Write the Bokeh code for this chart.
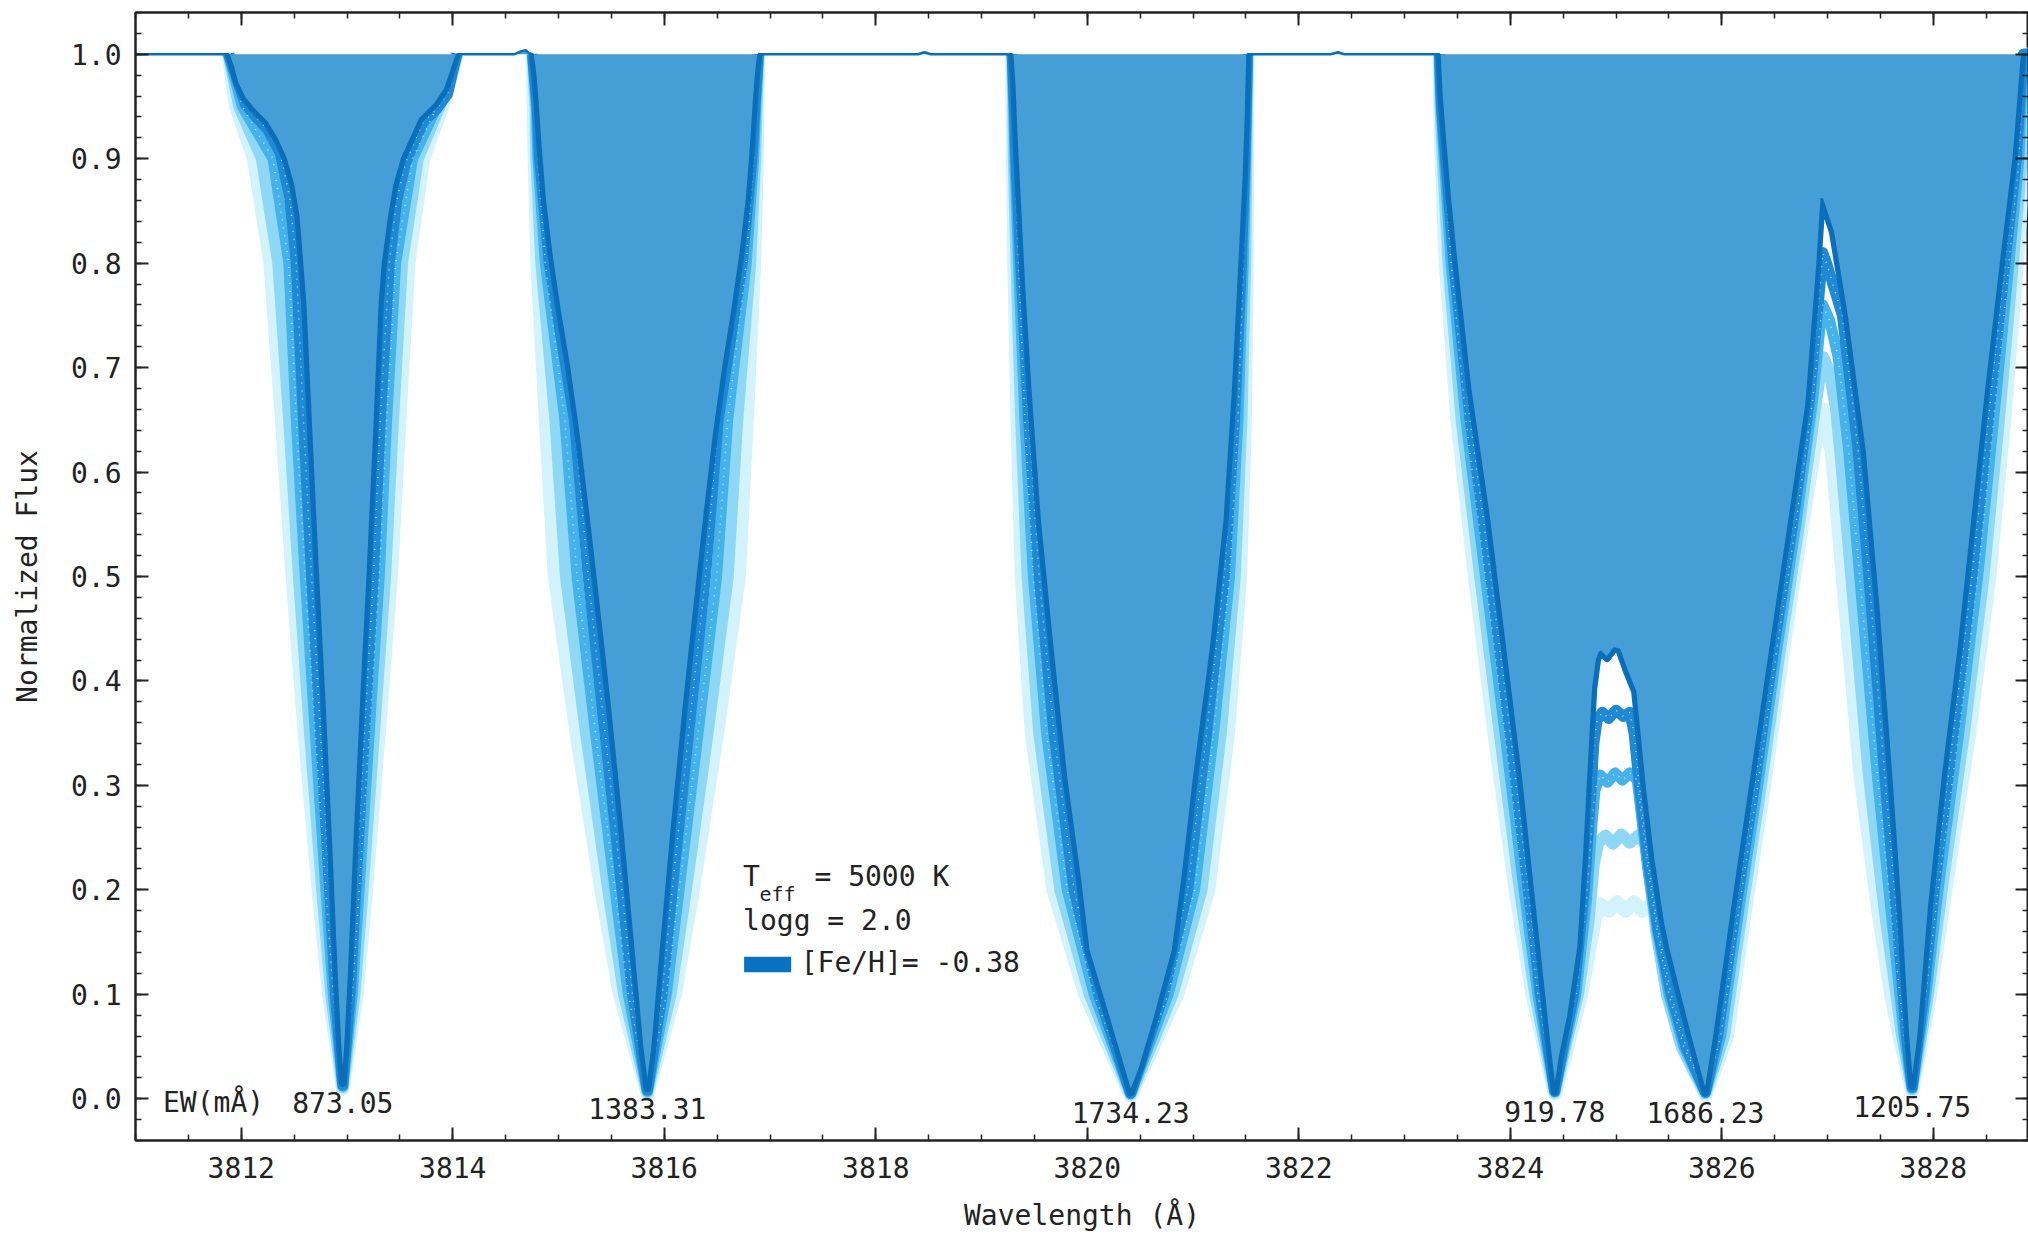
from bokeh.plotting import figure
from bokeh.models import (Range1d, LinearAxis, SingleIntervalTicker, Label, ColumnDataSource,
                          PrintfTickFormatter, CustomJSTickFormatter)
from bokeh.core.properties import value
from bokeh.embed import file_html
from bokeh.resources import INLINE
import numpy as np

# Synthetic spectrum at [Fe/H] = -0.38 (wavelength in Angstrom, normalized flux)
spec_main = [
    (3811.00, 1.000), (3811.88, 1.000),
    (3811.92, 0.988), (3811.96, 0.973), (3812.03, 0.958), (3812.12, 0.947), (3812.24, 0.935),
    (3812.34, 0.918), (3812.42, 0.900), (3812.49, 0.875), (3812.54, 0.845), (3812.575, 0.800),
    (3812.605, 0.760), (3812.66, 0.640), (3812.72, 0.510), (3812.79, 0.370), (3812.85, 0.240),
    (3812.90, 0.120), (3812.935, 0.050), (3812.96, 0.015), (3812.985, 0.050), (3813.02, 0.120),
    (3813.07, 0.240), (3813.13, 0.370), (3813.20, 0.510), (3813.26, 0.640), (3813.31, 0.760),
    (3813.34, 0.800), (3813.40, 0.845), (3813.45, 0.875), (3813.52, 0.900), (3813.61, 0.920),
    (3813.69, 0.938), (3813.83, 0.952), (3813.93, 0.967), (3813.99, 0.985), (3814.04, 1.000),
    (3814.58, 1.000), (3814.65, 1.003), (3814.69, 1.004), (3814.72, 1.001),
    (3814.755, 1.000), (3814.78, 0.980), (3814.80, 0.955), (3814.83, 0.910), (3814.87, 0.860),
    (3814.93, 0.810), (3815.01, 0.755), (3815.10, 0.700), (3815.19, 0.635), (3815.28, 0.560),
    (3815.37, 0.480), (3815.48, 0.380), (3815.60, 0.260), (3815.71, 0.140), (3815.79, 0.050),
    (3815.84, 0.010), (3815.89, 0.050), (3815.966, 0.140), (3816.073, 0.260), (3816.19, 0.380),
    (3816.296, 0.480), (3816.383, 0.560), (3816.47, 0.635), (3816.558, 0.700), (3816.645, 0.755),
    (3816.723, 0.810), (3816.781, 0.860), (3816.82, 0.910), (3816.849, 0.955), (3816.868, 0.980),
    (3816.89, 1.000),
    (3818.40, 1.000), (3818.46, 1.002), (3818.52, 1.000),
    (3819.29, 1.000), (3819.31, 0.970), (3819.33, 0.920), (3819.36, 0.860), (3819.40, 0.780),
    (3819.46, 0.680), (3819.55, 0.554), (3819.67, 0.431), (3819.80, 0.307), (3819.93, 0.210),
    (3820.01, 0.142), (3820.20, 0.078), (3820.34, 0.030), (3820.41, 0.006), (3820.50, 0.030),
    (3820.64, 0.078), (3820.81, 0.142), (3820.90, 0.210), (3821.01, 0.307), (3821.17, 0.431),
    (3821.30, 0.554), (3821.38, 0.680), (3821.44, 0.800), (3821.48, 0.880), (3821.50, 0.940),
    (3821.515, 1.000),
    (3822.30, 1.000), (3822.37, 1.002), (3822.43, 1.000),
    (3823.33, 1.000), (3823.35, 0.960), (3823.38, 0.920), (3823.43, 0.860), (3823.49, 0.800),
    (3823.62, 0.680), (3823.80, 0.554), (3823.95, 0.431), (3824.10, 0.307), (3824.23, 0.183),
    (3824.36, 0.060), (3824.42, 0.007), (3824.47, 0.040), (3824.55, 0.080), (3824.645, 0.145),
    (3824.70, 0.234), (3824.75, 0.330), (3824.785, 0.393), (3824.82, 0.420), (3824.85, 0.428),
    (3824.915, 0.422), (3824.98, 0.431), (3825.03, 0.430), (3825.10, 0.410), (3825.18, 0.390),
    (3825.22, 0.350), (3825.27, 0.298), (3825.35, 0.230), (3825.44, 0.170), (3825.49, 0.145),
    (3825.60, 0.100), (3825.70, 0.060), (3825.845, 0.006),
    (3825.93, 0.060), (3826.10, 0.183), (3826.28, 0.307), (3826.46, 0.431), (3826.64, 0.554),
    (3826.80, 0.664), (3826.90, 0.792), (3826.945, 0.862), (3827.05, 0.830), (3827.18, 0.750),
    (3827.35, 0.620), (3827.48, 0.470), (3827.60, 0.310), (3827.69, 0.180), (3827.76, 0.060),
    (3827.80, 0.012), (3827.86, 0.060), (3827.96, 0.183), (3828.09, 0.307), (3828.24, 0.431),
    (3828.37, 0.554), (3828.50, 0.678), (3828.64, 0.800), (3828.76, 0.900), (3828.84, 1.000),
    (3828.90, 1.000),
]

# Higher-metallicity spectra of the grid, one list per absorption feature
spec_grid_1 = [
    [(3811.88, 1.0), (3812.04, 0.952), (3812.14, 0.94), (3812.25, 0.928), (3812.37, 0.905),
     (3812.46, 0.862), (3812.52, 0.8), (3812.588, 0.65),
     (3812.665, 0.5), (3812.75, 0.35), (3812.835, 0.2), (3812.89, 0.1), (3812.96, 0.013),
     (3813.03, 0.1), (3813.083, 0.2), (3813.165, 0.35), (3813.25, 0.5), (3813.315, 0.65),
     (3813.40, 0.8), (3813.47, 0.86), (3813.55, 0.895), (3813.64, 0.917), (3813.72, 0.935),
     (3813.85, 0.948), (3813.95, 0.962), (3814.04, 1.0)],
    [(3814.755, 1.0), (3814.7975, 0.95), (3814.82, 0.9), (3814.9125, 0.8), (3815.15, 0.65),
     (3815.28, 0.5), (3815.44, 0.35), (3815.60, 0.2), (3815.70, 0.1), (3815.84, 0.008),
     (3815.98, 0.1), (3816.075, 0.2), (3816.23, 0.35), (3816.39, 0.5), (3816.51, 0.65),
     (3816.7375, 0.8), (3816.83, 0.9), (3816.8575, 0.95), (3816.89, 1.0)],
    [(3819.29, 1.0), (3819.31, 0.95), (3819.325, 0.9), (3819.37, 0.8), (3819.445, 0.65),
     (3819.545, 0.5), (3819.685, 0.35), (3819.875, 0.2), (3820.1075, 0.1), (3820.41, 0.005),
     (3820.7225, 0.1), (3820.95, 0.2), (3821.1275, 0.35), (3821.295, 0.5), (3821.3925, 0.65),
     (3821.4575, 0.8), (3821.491, 0.9), (3821.503, 0.95), (3821.515, 1.0)],
    [(3823.33, 1.0), (3823.35, 0.95), (3823.3875, 0.9), (3823.465, 0.8), (3823.62, 0.65),
     (3823.815, 0.5), (3824.00, 0.35), (3824.17, 0.2), (3824.285, 0.1), (3824.42, 0.007),
     (3824.50, 0.05), (3824.60, 0.10), (3824.70, 0.20), (3824.76, 0.29), (3824.79, 0.34),
     (3824.82, 0.362), (3824.87, 0.370), (3824.93, 0.364), (3825.00, 0.372), (3825.07, 0.366),
     (3825.13, 0.370), (3825.17, 0.35), (3825.22, 0.30), (3825.30, 0.23), (3825.40, 0.16),
     (3825.52, 0.10), (3825.66, 0.05), (3825.845, 0.006),
     (3825.96, 0.06), (3826.13, 0.18), (3826.31, 0.30), (3826.49, 0.43), (3826.67, 0.55),
     (3826.83, 0.67), (3826.92, 0.77), (3826.955, 0.81), (3826.99, 0.80), (3827.14, 0.75),
     (3827.29, 0.62), (3827.415, 0.47), (3827.54, 0.31), (3827.65, 0.18), (3827.745, 0.06),
     (3827.80, 0.011), (3827.91, 0.1), (3828.01, 0.2), (3828.19, 0.35), (3828.365, 0.5),
     (3828.52, 0.65), (3828.6775, 0.8), (3828.785, 0.9), (3828.815, 0.95), (3828.85, 1.0),
     (3828.90, 1.0)],
]

spec_grid_2 = [
    [(3811.88, 1.0), (3812.01, 0.95), (3812.30, 0.9), (3812.45, 0.8), (3812.52, 0.65),
     (3812.605, 0.5), (3812.70, 0.35), (3812.80, 0.2), (3812.87, 0.1), (3812.96, 0.012),
     (3813.05, 0.1), (3813.115, 0.2), (3813.21, 0.35), (3813.305, 0.5), (3813.375, 0.65),
     (3813.46, 0.8), (3813.62, 0.9), (3813.85, 0.95), (3814.04, 1.0)],
    [(3814.755, 1.0), (3814.79, 0.95), (3814.805, 0.9), (3814.875, 0.8), (3815.06, 0.65),
     (3815.175, 0.5), (3815.35, 0.35), (3815.535, 0.2), (3815.66, 0.1), (3815.84, 0.007),
     (3816.02, 0.1), (3816.14, 0.2), (3816.32, 0.35), (3816.495, 0.5), (3816.60, 0.65),
     (3816.775, 0.8), (3816.845, 0.9), (3816.865, 0.95), (3816.89, 1.0)],
    [(3819.29, 1.0), (3819.305, 0.95), (3819.315, 0.9), (3819.35, 0.8), (3819.41, 0.65),
     (3819.49, 0.5), (3819.615, 0.35), (3819.81, 0.2), (3820.065, 0.1), (3820.41, 0.005),
     (3820.765, 0.1), (3821.015, 0.2), (3821.195, 0.35), (3821.345, 0.5), (3821.425, 0.65),
     (3821.475, 0.8), (3821.4975, 0.9), (3821.506, 0.95), (3821.515, 1.0)],
    [(3823.33, 1.0), (3823.345, 0.95), (3823.375, 0.9), (3823.44, 0.8), (3823.58, 0.65),
     (3823.765, 0.5), (3823.95, 0.35), (3824.13, 0.2), (3824.26, 0.1), (3824.42, 0.007),
     (3824.51, 0.05), (3824.62, 0.10), (3824.72, 0.19), (3824.77, 0.26), (3824.80, 0.295),
     (3824.85, 0.310), (3824.92, 0.303), (3824.99, 0.312), (3825.06, 0.305), (3825.13, 0.312),
     (3825.20, 0.305), (3825.23, 0.28), (3825.30, 0.22), (3825.39, 0.16), (3825.50, 0.10),
     (3825.64, 0.05), (3825.845, 0.006),
     (3825.99, 0.06), (3826.16, 0.18), (3826.34, 0.30), (3826.52, 0.43), (3826.70, 0.55),
     (3826.86, 0.67), (3826.93, 0.74), (3826.955, 0.76), (3827.02, 0.745), (3827.10, 0.71),
     (3827.20, 0.62), (3827.33, 0.47), (3827.47, 0.31), (3827.60, 0.18), (3827.725, 0.06),
     (3827.80, 0.010), (3827.93, 0.1), (3828.045, 0.2), (3828.24, 0.35), (3828.42, 0.5),
     (3828.57, 0.65), (3828.715, 0.8), (3828.81, 0.9), (3828.83, 0.95), (3828.86, 1.0),
     (3828.90, 1.0)],
]

spec_grid_3 = [
    [(3811.88, 1.0), (3811.98, 0.95), (3812.195, 0.9), (3812.35, 0.8), (3812.453, 0.65),
     (3812.545, 0.5), (3812.65, 0.35), (3812.765, 0.2), (3812.85, 0.1), (3812.96, 0.011),
     (3813.07, 0.1), (3813.148, 0.2), (3813.255, 0.35), (3813.36, 0.5), (3813.435, 0.65),
     (3813.52, 0.8), (3813.67, 0.9), (3813.875, 0.95), (3814.04, 1.0)],
    [(3814.755, 1.0), (3814.7825, 0.95), (3814.79, 0.9), (3814.8375, 0.8), (3814.97, 0.65),
     (3815.07, 0.5), (3815.26, 0.35), (3815.47, 0.2), (3815.62, 0.1), (3815.84, 0.006),
     (3816.06, 0.1), (3816.205, 0.2), (3816.41, 0.35), (3816.60, 0.5), (3816.69, 0.65),
     (3816.8125, 0.8), (3816.86, 0.9), (3816.8725, 0.95), (3816.89, 1.0)],
    [(3819.29, 1.0), (3819.30, 0.95), (3819.305, 0.9), (3819.33, 0.8), (3819.375, 0.65),
     (3819.435, 0.5), (3819.545, 0.35), (3819.745, 0.2), (3820.0225, 0.1), (3820.41, 0.004),
     (3820.8075, 0.1), (3821.08, 0.2), (3821.2625, 0.35), (3821.395, 0.5), (3821.4575, 0.65),
     (3821.4925, 0.8), (3821.504, 0.9), (3821.509, 0.95), (3821.515, 1.0)],
    [(3823.33, 1.0), (3823.34, 0.95), (3823.3625, 0.9), (3823.415, 0.8), (3823.54, 0.65),
     (3823.715, 0.5), (3823.90, 0.35), (3824.09, 0.2), (3824.235, 0.1), (3824.42, 0.006),
     (3824.52, 0.05), (3824.64, 0.10), (3824.74, 0.17), (3824.79, 0.225), (3824.83, 0.245),
     (3824.90, 0.252), (3824.97, 0.244), (3825.05, 0.253), (3825.13, 0.245), (3825.21, 0.252),
     (3825.28, 0.244), (3825.31, 0.22), (3825.38, 0.16), (3825.48, 0.10), (3825.62, 0.05),
     (3825.845, 0.005),
     (3826.02, 0.06), (3826.19, 0.18), (3826.37, 0.30), (3826.55, 0.43), (3826.73, 0.55),
     (3826.88, 0.66), (3826.94, 0.70), (3826.96, 0.71), (3827.02, 0.695), (3827.08, 0.66),
     (3827.12, 0.62), (3827.25, 0.47), (3827.39, 0.31), (3827.54, 0.18), (3827.705, 0.06),
     (3827.80, 0.009), (3827.95, 0.1), (3828.08, 0.2), (3828.29, 0.35), (3828.475, 0.5),
     (3828.62, 0.65), (3828.7525, 0.8), (3828.835, 0.9), (3828.845, 0.95), (3828.87, 1.0),
     (3828.90, 1.0)],
]

spec_grid_4 = [
    [(3811.88, 1.0), (3811.95, 0.95), (3812.12, 0.9), (3812.275, 0.8), (3812.385, 0.65),
     (3812.485, 0.5), (3812.60, 0.35), (3812.73, 0.2), (3812.83, 0.1), (3812.96, 0.010),
     (3813.09, 0.1), (3813.18, 0.2), (3813.30, 0.35), (3813.415, 0.5), (3813.495, 0.65),
     (3813.58, 0.8), (3813.72, 0.9), (3813.90, 0.95), (3814.04, 1.0)],
    [(3814.755, 1.0), (3814.765, 0.95), (3814.775, 0.9), (3814.80, 0.8), (3814.88, 0.65),
     (3814.965, 0.5), (3815.17, 0.35), (3815.405, 0.2), (3815.58, 0.1), (3815.84, 0.005),
     (3816.10, 0.1), (3816.27, 0.2), (3816.50, 0.35), (3816.705, 0.5), (3816.78, 0.65),
     (3816.85, 0.8), (3816.875, 0.9), (3816.88, 0.95), (3816.89, 1.0)],
    [(3819.29, 1.0), (3819.295, 0.95), (3819.297, 0.9), (3819.31, 0.8), (3819.34, 0.65),
     (3819.38, 0.5), (3819.475, 0.35), (3819.68, 0.2), (3819.98, 0.1), (3820.41, 0.003),
     (3820.85, 0.1), (3821.145, 0.2), (3821.33, 0.35), (3821.445, 0.5), (3821.49, 0.65),
     (3821.508, 0.8), (3821.51, 0.9), (3821.512, 0.95), (3821.515, 1.0)],
    [(3823.33, 1.0), (3823.335, 0.95), (3823.35, 0.9), (3823.39, 0.8), (3823.50, 0.65),
     (3823.665, 0.5), (3823.85, 0.35), (3824.05, 0.2), (3824.21, 0.1), (3824.42, 0.005),
     (3824.54, 0.05), (3824.67, 0.10), (3824.76, 0.15), (3824.80, 0.172), (3824.85, 0.186),
     (3824.93, 0.180), (3825.01, 0.188), (3825.09, 0.180), (3825.17, 0.188), (3825.25, 0.180),
     (3825.33, 0.186), (3825.39, 0.175), (3825.44, 0.14), (3825.53, 0.09), (3825.65, 0.045),
     (3825.845, 0.004),
     (3826.05, 0.06), (3826.22, 0.18), (3826.40, 0.30), (3826.58, 0.43), (3826.76, 0.55),
     (3826.89, 0.63), (3826.95, 0.66), (3826.99, 0.64), (3827.04, 0.62), (3827.17, 0.47),
     (3827.31, 0.31), (3827.48, 0.18), (3827.60, 0.10), (3827.68, 0.06), (3827.80, 0.008),
     (3827.97, 0.1), (3828.115, 0.2), (3828.34, 0.35), (3828.53, 0.5), (3828.67, 0.65),
     (3828.79, 0.8), (3828.86, 0.9), (3828.87, 0.95), (3828.88, 1.0), (3828.90, 1.0)],
]

line_centers = [3812.96, 3815.84, 3820.41, 3824.42, 3825.845, 3827.80]
ew_labels = ["873.05", "1383.31", "1734.23", "919.78", "1686.23", "1205.75"]

teff_text = "5000 K"
logg_text = "2.0"
feh_text = "-0.38"

FONT = "DejaVu Sans Mono"
INK = "#222222"

wl_m = np.array([a for a, _ in spec_main])
fx_m = np.array([b for _, b in spec_main])

# absorption features of the reference spectrum (continuum stretches left out)
features = []
cur = None
for i, (w, f) in enumerate(spec_main):
    if f < 0.999:
        if cur is None:
            cur = [spec_main[i - 1]]
        cur.append((w, f))
    elif cur is not None:
        cur.append((w, f))
        features.append(cur)
        cur = None
if cur is not None:
    features.append(cur)

p = figure(width=2028, height=1235,
           x_range=Range1d(3811.0, 3828.9), y_range=Range1d(-0.04, 1.04),
           output_backend="svg", toolbar_location=None,
           min_border_left=135, min_border_right=0, min_border_top=12, min_border_bottom=95)
p.background_fill_color = "white"
p.border_fill_color = "white"
p.grid.visible = False
p.outline_line_color = INK
p.outline_line_width = 2

# grid spectra, drawn from the strongest (palest) inwards
grid_styles = [
    (spec_grid_4, "#d2f2fc", 14),
    (spec_grid_3, "#8ed8f5", 12),
    (spec_grid_2, "#46b2ea", 11),
    (spec_grid_1, "#1f8ad3", 11),
]
for spec, color, width in grid_styles:
    xs = [[a for a, _ in seg] for seg in spec]
    ys = [[b for _, b in seg] for seg in spec]
    p.multi_line(xs, ys, line_color=color, line_width=width, line_join="round")
for spec in (spec_grid_2, spec_grid_1):
    xs = [[a for a, _ in seg] for seg in spec]
    ys = [[b for _, b in seg] for seg in spec]
    p.multi_line(xs, ys, line_color="white", line_width=1.5, line_dash="1 7", line_alpha=0.7)

# dark rim hugging the [Fe/H] = -0.38 profile
p.multi_line([[a for a, _ in seg] for seg in features], [[b for _, b in seg] for seg in features],
             line_color="#0b6fbd", line_width=8, line_join="round")

# filled absorption of the [Fe/H] = -0.38 spectrum
p.varea(x=wl_m, y1=fx_m, y2=np.ones_like(fx_m), fill_color="#459fd6")
p.line(wl_m, fx_m, line_color="#0a6db5", line_width=2.5)

# equivalent-width labels beneath each line core
core_fx = [fx_m[np.abs(wl_m - c) < 0.08].min() for c in line_centers]
label_y = [f - 0.019 for f in core_fx]
src = ColumnDataSource(dict(x=line_centers, y=label_y, t=ew_labels))
p.text(x="x", y="y", text="t", source=src, text_align="center", text_baseline="alphabetic",
       text_font=value(FONT), text_font_size="28px", text_color=INK)
p.add_layout(Label(x=3811.26, y=label_y[0], text="EW(mÅ)", text_font=FONT,
                   text_font_size="28px", text_color=INK, text_baseline="alphabetic"))

# parameter block
p.add_layout(Label(x=3816.745, y=0.1967, text="T", text_font=FONT, text_font_size="28px",
                   text_color=INK))
p.add_layout(Label(x=3816.90, y=0.185, text="eff", text_font=FONT, text_font_size="20px",
                   text_color=INK))
p.add_layout(Label(x=3817.42, y=0.1967, text="= " + teff_text, text_font=FONT,
                   text_font_size="28px", text_color=INK))
p.add_layout(Label(x=3816.745, y=0.1547, text="logg = " + logg_text, text_font=FONT,
                   text_font_size="28px", text_color=INK))
p.quad(left=3816.755, right=3817.20, bottom=0.121, top=0.136, fill_color="#0a70c0",
       line_color=None)
p.add_layout(Label(x=3817.29, y=0.1146, text="[Fe/H]= " + feh_text, text_font=FONT,
                   text_font_size="28px", text_color=INK))


def style_axis(ax):
    ax.axis_line_color = INK
    ax.axis_line_width = 2
    ax.major_tick_line_color = INK
    ax.minor_tick_line_color = INK
    ax.major_tick_line_width = 2
    ax.minor_tick_line_width = 1.5
    ax.major_tick_in = 13
    ax.major_tick_out = 0
    ax.minor_tick_in = 6
    ax.minor_tick_out = 0
    ax.major_label_text_font = FONT
    ax.major_label_text_font_size = "28px"
    ax.major_label_text_color = INK
    ax.axis_label_text_font = FONT
    ax.axis_label_text_font_size = "28px"
    ax.axis_label_text_font_style = "normal"
    ax.axis_label_text_color = INK


p.xaxis.ticker = SingleIntervalTicker(interval=2, num_minor_ticks=4)
p.yaxis.ticker = SingleIntervalTicker(interval=0.1, num_minor_ticks=5)
style_axis(p.xaxis[0])
style_axis(p.yaxis[0])
p.yaxis.formatter = PrintfTickFormatter(format="%.1f")
p.xaxis.axis_label = "Wavelength (Å)"
p.yaxis.axis_label = "Normalized Flux"
p.xaxis.major_label_standoff = 16
p.yaxis.major_label_standoff = 14
p.xaxis.axis_label_standoff = 18
p.yaxis.axis_label_standoff = 24

# mirrored ticks on the top and right edges
blank = CustomJSTickFormatter(code="return ''")
top_ax = LinearAxis(ticker=SingleIntervalTicker(interval=2, num_minor_ticks=4), formatter=blank)
right_ax = LinearAxis(ticker=SingleIntervalTicker(interval=0.1, num_minor_ticks=5), formatter=blank)
for ax in (top_ax, right_ax):
    style_axis(ax)
    ax.major_label_standoff = 0
p.add_layout(top_ax, "above")
p.add_layout(right_ax, "right")

open("out.html", "w").write(file_html(p, INLINE))
